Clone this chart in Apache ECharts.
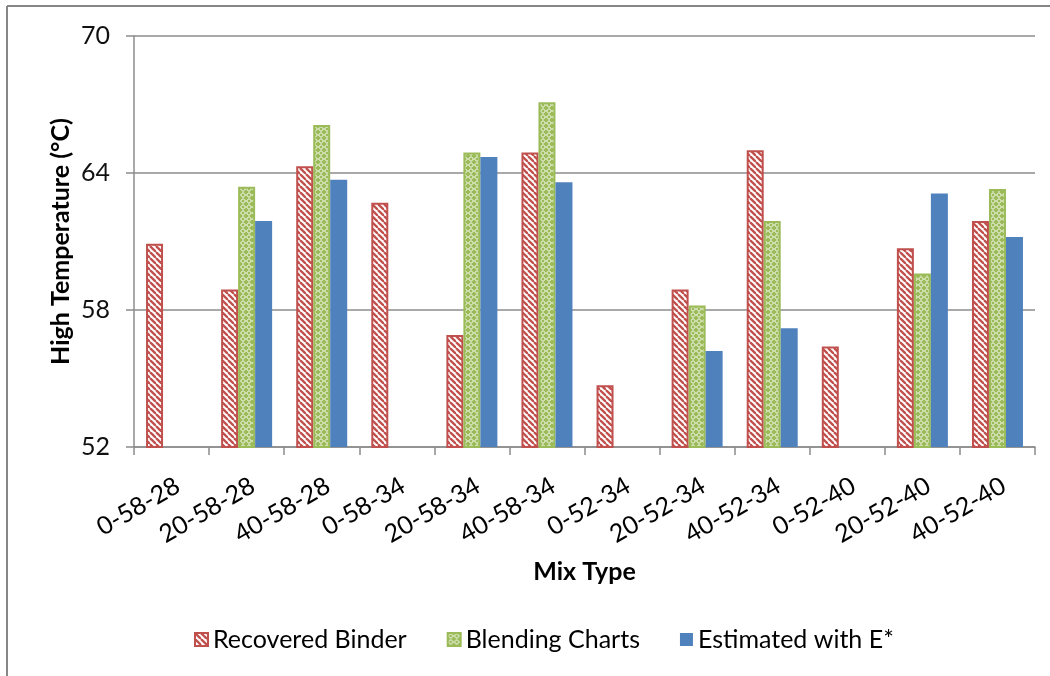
<!DOCTYPE html>
<html>
<head>
<meta charset="utf-8">
<style>
  html, body { margin: 0; padding: 0; background: #fff; }
  #chart { width: 1050px; height: 676px; }
</style>
<script src="https://cdn.jsdelivr.net/npm/echarts@6/dist/echarts.min.js"></script>
</head>
<body>
<div id="chart"></div>
<script>
// Mix designations along the x axis
const mixTypes = ['0-58-28', '20-58-28', '40-58-28', '0-58-34', '20-58-34', '40-58-34',
                  '0-52-34', '20-52-34', '40-52-34', '0-52-40', '20-52-40', '40-52-40'];

// High PG temperature (°C) by method; null where no value exists
const recoveredBinder = [60.9, 58.9, 64.3, 62.7, 56.9, 64.9, 54.7, 58.9, 65.0, 56.4, 60.7, 61.9];
const blendingCharts  = [null, 63.4, 66.1, null, 64.9, 67.1, null, 58.2, 61.9, null, 59.6, 63.3];
const estimatedWithE  = [null, 61.9, 63.7, null, 64.7, 63.6, null, 56.2, 57.2, null, 63.1, 61.2];

const yTicks = [52, 58, 64, 70];

const FONT = 'Lato, "Open Sans", sans-serif';

// Hatched fill: red downward diagonals on white
function stripePattern() {
  const s = 6;
  const c = document.createElement('canvas');
  c.width = s; c.height = s;
  const g = c.getContext('2d');
  g.fillStyle = '#ffffff';
  g.fillRect(0, 0, s, s);
  g.strokeStyle = '#C0504D';
  g.lineWidth = 2.3;
  for (let k = -s; k <= s; k += s) {
    g.beginPath();
    g.moveTo(k, 0);
    g.lineTo(k + s, s);
    g.stroke();
  }
  return c;
}

// Lattice fill: white chain links on green
function latticePattern() {
  const s = 6;
  const c = document.createElement('canvas');
  c.width = s; c.height = s;
  const g = c.getContext('2d');
  g.fillStyle = '#9BBB59';
  g.fillRect(0, 0, s, s);
  g.strokeStyle = '#ffffff';
  g.lineWidth = 1;
  g.beginPath();
  g.moveTo(3, 0.5); g.lineTo(5.5, 3); g.lineTo(3, 5.5); g.lineTo(0.5, 3); g.closePath();
  g.stroke();
  return c;
}

const chart = echarts.init(document.getElementById('chart'), null, { renderer: 'canvas' });

const barW = 17;

chart.setOption({
  animation: false,
  backgroundColor: '#ffffff',
  textStyle: { fontFamily: FONT },
  grid: { left: 134, right: 15, top: 36, bottom: 229, containLabel: false },
  graphic: [
    { type: 'line', shape: { x1: 7, y1: 6, x2: 1050, y2: 6 }, style: { stroke: '#878787', lineWidth: 2 }, silent: true },
    { type: 'line', shape: { x1: 7, y1: 6, x2: 7, y2: 676 }, style: { stroke: '#878787', lineWidth: 2 }, silent: true }
  ],
  legend: {
    bottom: 19,
    left: 189,
    itemWidth: 13,
    itemHeight: 13,
    itemGap: 40,
    icon: 'rect',
    textStyle: { fontFamily: FONT, fontSize: 25, color: '#000' },
    data: ['Recovered Binder', 'Blending Charts', 'Estimated with E*']
  },
  xAxis: {
    type: 'category',
    data: mixTypes,
    name: 'Mix Type',
    nameLocation: 'middle',
    nameGap: 112,
    nameMoveOverlap: false,
    nameTextStyle: { fontFamily: FONT, fontSize: 25, fontWeight: 'bold', color: '#000' },
    axisLine: { lineStyle: { color: '#8c8c8c', width: 1.5 } },
    axisTick: { show: true, length: 8, alignWithLabel: false, lineStyle: { color: '#8c8c8c', width: 1.5 } },
    axisLabel: { rotate: 30, margin: 26, verticalAlign: 'top', fontFamily: FONT, fontSize: 25, color: '#000', interval: 0 },
    splitLine: { show: false }
  },
  yAxis: {
    type: 'value',
    min: 52,
    max: 70,
    interval: 6,
    name: 'High Temperature (°C)',
    nameLocation: 'middle',
    nameGap: 61,
    nameMoveOverlap: false,
    nameTextStyle: { fontFamily: FONT, fontSize: 25, fontWeight: 'bold', color: '#000' },
    axisLine: { show: true, lineStyle: { color: '#8c8c8c', width: 1.5 } },
    axisTick: { show: true, length: 8, inside: false, lineStyle: { color: '#8c8c8c', width: 1.5 } },
    axisLabel: {
      margin: 24, fontFamily: FONT, fontSize: 25, color: '#111',
      formatter: v => (yTicks.indexOf(v) >= 0 ? String(v) : '')
    },
    splitLine: { show: true, lineStyle: { color: '#8c8c8c', width: 1.5 } }
  },
  series: [
    {
      name: 'Recovered Binder',
      type: 'bar',
      data: recoveredBinder,
      barWidth: barW,
      barGap: '0%',
      itemStyle: { color: { image: stripePattern(), repeat: 'repeat' }, borderColor: '#C0504D', borderWidth: 2 }
    },
    {
      name: 'Blending Charts',
      type: 'bar',
      data: blendingCharts,
      barWidth: barW,
      barGap: '0%',
      itemStyle: { color: { image: latticePattern(), repeat: 'repeat' }, borderColor: '#9BBB59', borderWidth: 2 }
    },
    {
      name: 'Estimated with E*',
      type: 'bar',
      data: estimatedWithE,
      barWidth: barW,
      barGap: '0%',
      itemStyle: { color: '#4F81BD' }
    }
  ]
});
</script>
</body>
</html>
